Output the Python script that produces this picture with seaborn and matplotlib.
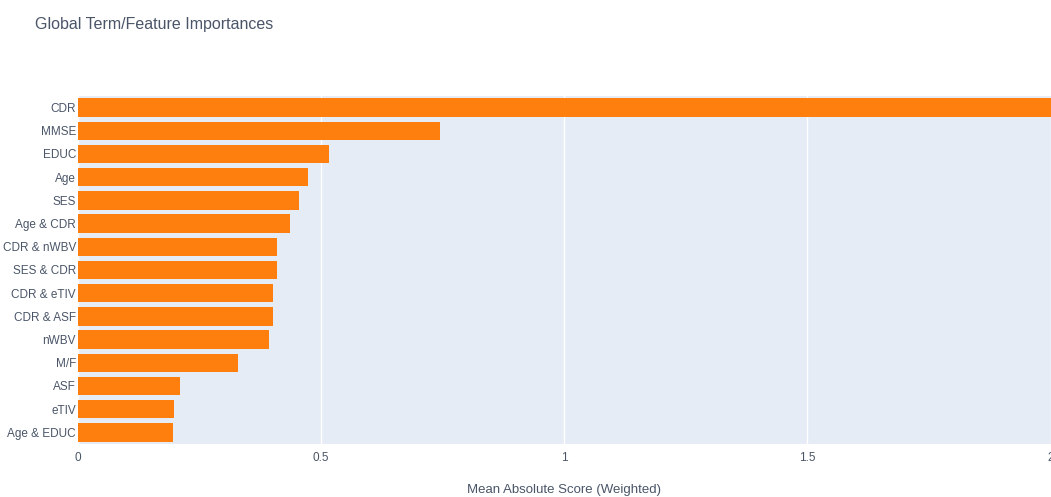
import matplotlib
matplotlib.use("Agg")
import matplotlib.pyplot as plt
import seaborn as sns
import pandas as pd

features = ["CDR", "MMSE", "EDUC", "Age", "SES", "Age & CDR", "CDR & nWBV",
            "SES & CDR", "CDR & eTIV", "CDR & ASF", "nWBV", "M/F", "ASF",
            "eTIV", "Age & EDUC"]
scores = [2.05, 0.745, 0.516, 0.474, 0.455, 0.436, 0.411, 0.410, 0.402,
          0.401, 0.393, 0.329, 0.211, 0.199, 0.196]
x_ticks = [0, 0.5, 1, 1.5, 2]
x_tick_labels = ["0", "0.5", "1", "1.5", "2"]

df = pd.DataFrame({"feature": features, "score": scores})

sns.set_theme(style="white")
plt.rcParams["font.family"] = ["Liberation Sans", "DejaVu Sans"]

text_color = "#4a5568"
fig = plt.figure(figsize=(10.51, 4.97), dpi=100)
ax = fig.add_axes([77.5 / 1051, 53 / 497, 973 / 1051, 348 / 497])
ax.set_facecolor("#E5ECF6")

sns.barplot(data=df, x="score", y="feature", orient="h", color="#FF7F0E",
            saturation=1, width=0.8, ax=ax, zorder=2, linewidth=0)

ax.set_xlim(0, 2.0)
ax.set_ylim(len(features) - 0.5, -0.5)
ax.set_xticks(x_ticks)
ax.set_xticklabels(x_tick_labels)
ax.grid(axis="x", color="white", linewidth=1, zorder=0)
ax.set_axisbelow(True)
for s in ax.spines.values():
    s.set_visible(False)
ax.tick_params(axis="both", length=0, labelsize=8.5, colors=text_color)
ax.tick_params(axis="y", pad=1)
ax.tick_params(axis="x", pad=6)
ax.set_ylabel("")
ax.set_xlabel("Mean Absolute Score (Weighted)", fontsize=9.5, color=text_color, labelpad=14)

fig.text(35 / 1051, 1 - 25 / 497, "Global Term/Feature Importances", fontsize=11.5,
         color=text_color, ha="left", va="center")

fig.savefig("out.png", dpi=100)
